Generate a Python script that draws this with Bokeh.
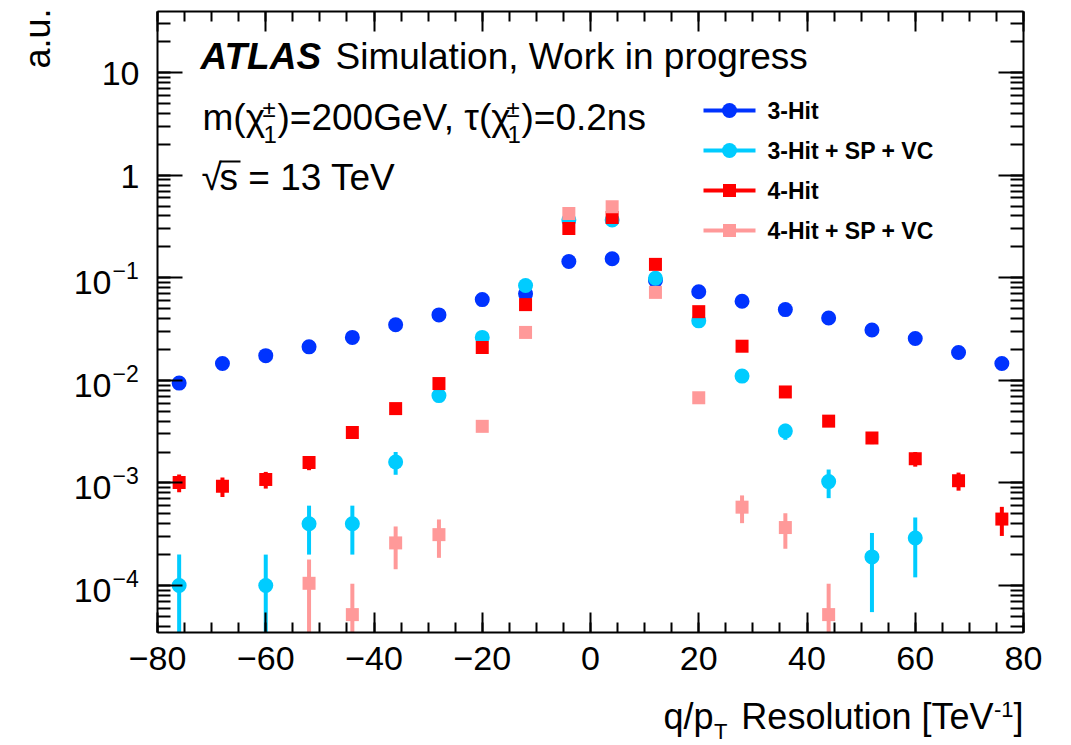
import math
from bokeh.plotting import figure
from bokeh.models import Range1d, LinearAxis, LogAxis, FixedTicker, Label
from bokeh.embed import file_html
from bokeh.resources import INLINE

# ---------------- data ----------------
bin_centers = [-76, -68, -60, -52, -44, -36, -28, -20, -12, -4,
               4, 12, 20, 28, 36, 44, 52, 60, 68, 76]

hit3 = [0.0094, 0.0146, 0.0174, 0.0212, 0.0262, 0.0348, 0.0434, 0.0612, 0.0697, 0.144,
        0.153, 0.094, 0.073, 0.059, 0.0489, 0.0405, 0.0309, 0.0256, 0.0187, 0.0146]
hit3_err = [0.0006, 0.0008, 0.0008, 0.0009, 0.001, 0.0012, 0.0013, 0.0015, 0.0016, 0.0024,
            0.0025, 0.002, 0.0017, 0.0016, 0.0014, 0.0013, 0.0011, 0.001, 0.0009, 0.0008]

hit3_spvc = [1e-4, None, 1e-4, 4e-4, 4e-4, 1.6e-3, 7.1e-3, 0.0262, 0.084, 0.365,
             0.365, 0.099, 0.038, 0.011, 0.0032, 1.03e-3, 1.9e-4, 2.9e-4, None, None]
hit3_spvc_err = [1e-4, None, 1e-4, 2e-4, 2e-4, 4e-4, 8.4e-4, 0.0016, 0.003, 0.006,
                 0.006, 0.003, 0.002, 0.001, 5.7e-4, 3.2e-4, 1.35e-4, 1.7e-4, None, None]

hit4 = [1.01e-3, 0.93e-3, 1.08e-3, 1.58e-3, 3.1e-3, 5.3e-3, 9.3e-3, 0.0209, 0.0547, 0.302,
        0.387, 0.135, 0.0467, 0.0215, 0.0077, 0.004, 0.00274, 0.00172, 0.00105, 4.44e-4]
hit4_err = [2e-4, 2e-4, 2e-4, 2.5e-4, 3.5e-4, 5e-4, 6e-4, 0.001, 0.0015, 0.004,
            0.004, 0.0025, 0.0015, 0.001, 6e-4, 4e-4, 3.5e-4, 2.8e-4, 2.1e-4, 1.4e-4]

hit4_spvc = [None, None, None, 1.05e-4, 5.2e-5, 2.6e-4, 3.13e-4, 3.56e-3, 0.0293, 0.424,
             0.492, 0.072, 6.76e-3, 5.8e-4, 3.67e-4, 5.2e-5, None, None, None, None]
hit4_spvc_err = [None, None, None, 7.4e-5, 5.2e-5, 1.16e-4, 1.27e-4, 4.3e-4, 0.0012, 0.005,
                 0.005, 0.002, 6e-4, 1.75e-4, 1.39e-4, 5.2e-5, None, None, None, None]

series_names = ["3-Hit", "3-Hit + SP + VC", "4-Hit", "4-Hit + SP + VC"]
x_ticks = [-80, -60, -40, -20, 0, 20, 40, 60, 80]
y_decades = [-4, -3, -2, -1, 0, 1]

# ---------------- layout ----------------
W, H = 1071, 745
FL, FR, FT, FB = 157, 1023, 11, 632          # plot box inside the canvas (px)
XMIN, XMAX = -80, 80
YMIN, YMAX = 3.48e-5, 39.4
LT, LB = math.log10(YMAX), math.log10(YMIN)
FONT = "Liberation Sans"

DX = (XMAX - XMIN) / (FR - FL)               # data units per px
DPP = (LT - LB) / (FB - FT)                  # decades per px
X0 = XMIN - FL * DX
X1 = XMAX + (W - FR) * DX
LTOP = LT + FT * DPP
LBOT = LB - (H - FB) * DPP


def px2x(px):
    return X0 + px * DX


def py2y(py):
    return 10 ** (LTOP - py * DPP)


def y2py(y):
    return (LTOP - math.log10(y)) / DPP


p = figure(width=W, height=H, x_range=Range1d(X0, X1), y_range=Range1d(10 ** LBOT, 10 ** LTOP),
           y_axis_type="log", x_axis_location=None, y_axis_location=None,
           output_backend="svg", toolbar_location=None,
           min_border_left=0, min_border_right=0, min_border_top=0, min_border_bottom=0)
p.title.visible = False
p.xgrid.visible = False
p.ygrid.visible = False
p.outline_line_color = None
p.background_fill_color = "white"
p.border_fill_color = "white"

xt = FixedTicker(ticks=x_ticks, minor_ticks=list(range(-80, 81, 5)))
minor_y = [k * 10.0 ** e for e in range(-5, 2) for k in range(1, 10)]
minor_y = [m for m in minor_y if YMIN <= m <= YMAX]
yt = FixedTicker(ticks=[10.0 ** e for e in y_decades], minor_ticks=minor_y)


def style_axis(ax, ticker, major_len, minor_len, labels):
    ax.ticker = ticker
    ax.axis_line_color = "black"
    ax.axis_line_width = 2
    ax.major_tick_line_color = "black"
    ax.minor_tick_line_color = "black"
    ax.major_tick_line_width = 2
    ax.minor_tick_line_width = 2
    ax.major_tick_in = major_len
    ax.major_tick_out = 0
    ax.minor_tick_in = minor_len
    ax.minor_tick_out = 0
    if not labels:
        ax.major_label_text_font_size = "1px"
        ax.major_label_text_color = None
        ax.major_label_standoff = 0


bottom = LinearAxis(fixed_location=YMIN, bounds=(XMIN, XMAX))
style_axis(bottom, xt, 20, 10, True)
bottom.major_label_text_font = FONT
bottom.major_label_text_font_size = "34px"
bottom.major_label_text_color = "black"
bottom.major_label_standoff = 14
bottom.major_label_overrides = {t: (str(t).replace("-", "\u2212")) for t in x_ticks}
p.add_layout(bottom, "below")

top = LinearAxis(fixed_location=YMAX, bounds=(XMIN, XMAX))
style_axis(top, xt, 20, 10, False)
p.add_layout(top, "above")

left = LogAxis(fixed_location=XMIN, bounds=(YMIN, YMAX))
style_axis(left, yt, 25, 13, False)
p.add_layout(left, "left")

right = LogAxis(fixed_location=XMAX, bounds=(YMIN, YMAX))
style_axis(right, yt, 25, 13, False)
p.add_layout(right, "right")


def add_text(px, py, text, size, style="normal", align="left", angle=0.0):
    p.add_layout(Label(x=px2x(px), y=py2y(py), text=text, text_font=FONT,
                       text_font_size=f"{size}px", text_font_style=style, text_color="black",
                       text_align=align, text_baseline="middle", angle=angle))


# y tick labels (10, 1, 10^-n)   -- positions are text centres
for e in y_decades:
    ty = y2py(10.0 ** e)
    if e >= 0:
        add_text(139, ty + 1, "1" if e == 0 else "10", 34, align="right")
    else:
        add_text(111, ty + 5, "10", 34, align="right")
        add_text(112, ty - 7, "\u2212" + str(-e), 23, align="left")

# axis titles
add_text(37, 8, "a.u.", 36, align="right", angle=math.pi / 2)
add_text(1023, 716, "]", 36, align="right")
add_text(1013, 709, "-1", 22, align="right")
add_text(993, 716, "Resolution [TeV", 36, align="right")
add_text(727, 731, "T", 22, align="right")
add_text(713, 716, "q/p", 36, align="right")

# ATLAS label block
add_text(200, 56, "ATLAS", 37, style="bold italic")
add_text(335, 56, "Simulation, Work in progress", 37)
add_text(202, 117, "m(\u03c7", 37)
add_text(262, 108, "\u00b1", 24)
add_text(263, 134, "1", 24)
add_text(277, 117, ")=200GeV, \u03c4(\u03c7", 37)
add_text(506, 108, "\u00b1", 24)
add_text(507, 134, "1", 24)
add_text(521, 117, ")=0.2ns", 37)
add_text(201, 177, "\u221a", 37)
add_text(219, 177, "s = 13 TeV", 37)
p.segment(x0=[px2x(219)], y0=[py2y(161)], x1=[px2x(240)], y1=[py2y(161)],
          line_color="black", line_width=2)

# ---------------- data marks ----------------
colors = ["#0033ff", "#00ccff", "#ff0000", "#ff9999"]
markers = ["circle", "circle", "square", "square"]
sizes = [15, 15, 13, 13]
all_vals = [hit3, hit3_spvc, hit4, hit4_spvc]
all_errs = [hit3_err, hit3_spvc_err, hit4_err, hit4_spvc_err]

for vals, errs, col, mk, sz in zip(all_vals, all_errs, colors, markers, sizes):
    xs, ys, lo, hi = [], [], [], []
    for xc, v, e in zip(bin_centers, vals, errs):
        if v is None:
            continue
        xs.append(xc)
        ys.append(v)
        lo.append(max(v - e, YMIN))
        hi.append(min(v + e, YMAX))
    p.segment(x0=xs, y0=lo, x1=xs, y1=hi, line_color=col, line_width=4)
    p.scatter(x=xs, y=ys, marker=mk, size=sz, fill_color=col, line_color=col, line_width=0)

# ---------------- legend (ROOT style) ----------------
leg_rows = [110, 150, 190, 230]
for name, col, mk, sz, ry in zip(series_names, colors, markers, sizes, leg_rows):
    yy = py2y(ry)
    p.segment(x0=[px2x(703)], y0=[yy], x1=[px2x(755)], y1=[yy], line_color=col, line_width=4)
    p.scatter(x=[px2x(729)], y=[yy], marker=mk, size=sz, fill_color=col, line_color=col, line_width=0)
    add_text(767, ry, name, 23, style="bold")

open("out.html", "w").write(file_html(p, INLINE))
